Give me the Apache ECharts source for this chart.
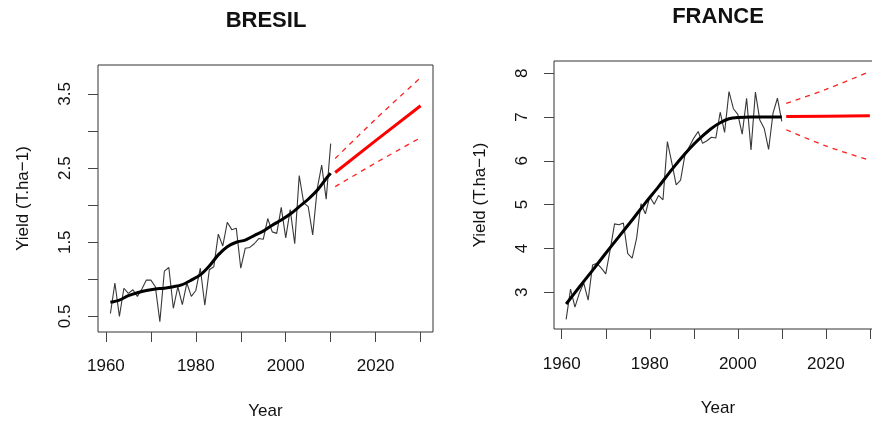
<!DOCTYPE html>
<html><head><meta charset="utf-8">
<script src="https://cdn.jsdelivr.net/npm/echarts@6/dist/echarts.min.js"></script>
<style>html,body{margin:0;padding:0;background:#fff}#c{width:872px;height:421px}</style>
</head><body><div id="c"></div>
<script>
// ---- data ----
const years = Array.from({length: 50}, (_, i) => 1961 + i);
const bresilObs = [0.54,0.95,0.50,0.88,0.81,0.86,0.77,0.87,0.99,0.99,
                   0.90,0.43,1.11,1.16,0.61,0.90,0.66,0.95,0.77,0.85,
                   1.15,0.65,1.13,1.17,1.61,1.45,1.77,1.67,1.69,1.15,
                   1.42,1.43,1.48,1.55,1.54,1.82,1.64,1.62,1.97,1.56,
                   1.94,1.48,2.40,2.03,1.98,1.60,2.22,2.54,2.08,2.83];
const franceObs = [2.38,3.07,2.66,2.98,3.21,2.82,3.62,3.66,3.55,3.42,
                   3.97,4.56,4.54,4.58,3.88,3.78,4.23,5.02,4.79,5.18,
                   5.01,5.21,5.11,6.44,5.96,5.45,5.56,6.14,6.33,6.52,
                   6.67,6.40,6.46,6.54,6.52,7.11,6.65,7.58,7.19,7.06,
                   6.61,7.43,6.25,7.57,6.93,6.74,6.26,7.09,7.43,6.90];
const bresilTrendYears = [1961,1963,1965,1967,1969,1971,1973,1975,1977,1979,1981,1983,1985,1987,1989,1991,1993,1995,1997,1999,2001,2003,2005,2007,2009,2010];
const bresilTrend = [0.69,0.72,0.78,0.82,0.85,0.87,0.88,0.90,0.93,0.99,1.06,1.18,1.33,1.44,1.50,1.53,1.59,1.65,1.73,1.80,1.88,1.98,2.08,2.20,2.36,2.43];
const franceTrendYears = [1961,1964,1967,1970,1973,1976,1979,1982,1985,1988,1990,1992,1994,1996,1998,2000,2003,2006,2010];
const franceTrend = [2.73,3.12,3.50,3.89,4.27,4.65,5.04,5.41,5.80,6.16,6.38,6.57,6.74,6.87,6.96,6.99,7.00,7.00,7.00];
const forecastYears = [2011, 2020, 2030];
const bresilFc = [2.44, 2.87, 3.34];
const bresilUp = [2.63, 3.16, 3.72];
const bresilLo = [2.25, 2.57, 2.91];
const franceFc = [7.01, 7.02, 7.03];
const franceUp = [7.31, 7.63, 8.04];
const franceLo = [6.71, 6.34, 6.01];
const xTicks = [1960,1970,1980,1990,2000,2010,2020,2030];
const xLabels = [1960,1980,2000,2020];
const bresilYTicks = [0.5,1.0,1.5,2.0,2.5,3.0,3.5];
const bresilYLabels = [0.5,1.5,2.5,3.5];
const franceYTicks = [3,4,5,6,7,8];
const titles = ['BRESIL', 'FRANCE'];

// ---- chart ----
const FONT = 'Liberation Sans, Arial, sans-serif';
const pair = (xs, ys) => xs.map((x, i) => [x, ys[i]]);

function xAxis(gi) {
  return {
    type: 'value', gridIndex: gi, min: 1958.24, max: 2032.76,
    axisLine: {show: false, onZero: false},
    splitLine: {show: false},
    axisTick: {show: true, length: 10, customValues: xTicks, lineStyle: {color: '#444', width: 1}},
    axisLabel: {customValues: xLabels, margin: gi === 0 ? 26 : 27, fontSize: 17, color: '#111', fontFamily: FONT,
                formatter: v => String(v)},
    name: 'Year', nameLocation: 'middle', nameGap: 71,
    nameTextStyle: {fontSize: 17, color: '#111', fontFamily: FONT}
  };
}
function yAxis(gi, min, max, ticks, labels, margin, gap) {
  return {
    type: 'value', gridIndex: gi, min: min, max: max,
    axisLine: {show: false, onZero: false},
    splitLine: {show: false},
    axisTick: {show: true, length: 10, customValues: ticks, lineStyle: {color: '#444', width: 1}},
    axisLabel: {customValues: labels, rotate: 90, margin: margin, fontSize: 17, color: '#111', fontFamily: FONT,
                formatter: v => (gi === 0 ? v.toFixed(1) : String(v))},
    name: 'Yield (T.ha\u22121)', nameLocation: 'middle', nameGap: gap,
    nameTextStyle: {fontSize: 17, color: '#111', fontFamily: FONT}
  };
}
function seriesFor(gi, obs, tY, tV, fc, up, lo) {
  const base = {type: 'line', xAxisIndex: gi, yAxisIndex: gi, symbol: 'none', silent: true, animation: false};
  const dash = {color: '#ff2020', width: 1.3, type: [5, 5]};
  return [
    Object.assign({}, base, {data: pair(years, obs), lineStyle: {color: '#383838', width: 1.1}}),
    Object.assign({}, base, {data: pair(tY, tV), smooth: 0.3, lineStyle: {color: '#000', width: 3}}),
    Object.assign({}, base, {data: pair(forecastYears, fc), lineStyle: {color: '#ff0000', width: 3}}),
    Object.assign({}, base, {data: pair(forecastYears, up), smooth: 0.3, lineStyle: dash}),
    Object.assign({}, base, {data: pair(forecastYears, lo), smooth: 0.3, lineStyle: dash})
  ];
}

const chart = echarts.init(document.getElementById('c'), null, {renderer: 'canvas'});
chart.setOption({
  backgroundColor: '#fff',
  animation: false,
  title: [
    {text: titles[0], left: 266, top: 10, textAlign: 'center', padding: 0,
     textStyle: {fontSize: 22, fontWeight: 'bold', color: '#111', fontFamily: FONT}},
    {text: titles[1], left: 718, top: 6, textAlign: 'center', padding: 0,
     textStyle: {fontSize: 22, fontWeight: 'bold', color: '#111', fontFamily: FONT}}
  ],
  grid: [
    {left: 98, top: 65, width: 335, height: 267, show: true, borderColor: '#333', borderWidth: 1,
     containLabel: false, outerBoundsMode: 'none'},
    {left: 554, top: 61, width: 328, height: 268, show: true, borderColor: '#333', borderWidth: 1,
     containLabel: false, outerBoundsMode: 'none'}
  ],
  xAxis: [xAxis(0), xAxis(1)],
  yAxis: [
    yAxis(0, 0.29, 3.89, bresilYTicks, bresilYLabels, 24, 66),
    yAxis(1, 2.16, 8.28, franceYTicks, franceYTicks, 23, 65)
  ],
  series: [].concat(
    seriesFor(0, bresilObs, bresilTrendYears, bresilTrend, bresilFc, bresilUp, bresilLo),
    seriesFor(1, franceObs, franceTrendYears, franceTrend, franceFc, franceUp, franceLo)
  )
});
</script></body></html>
